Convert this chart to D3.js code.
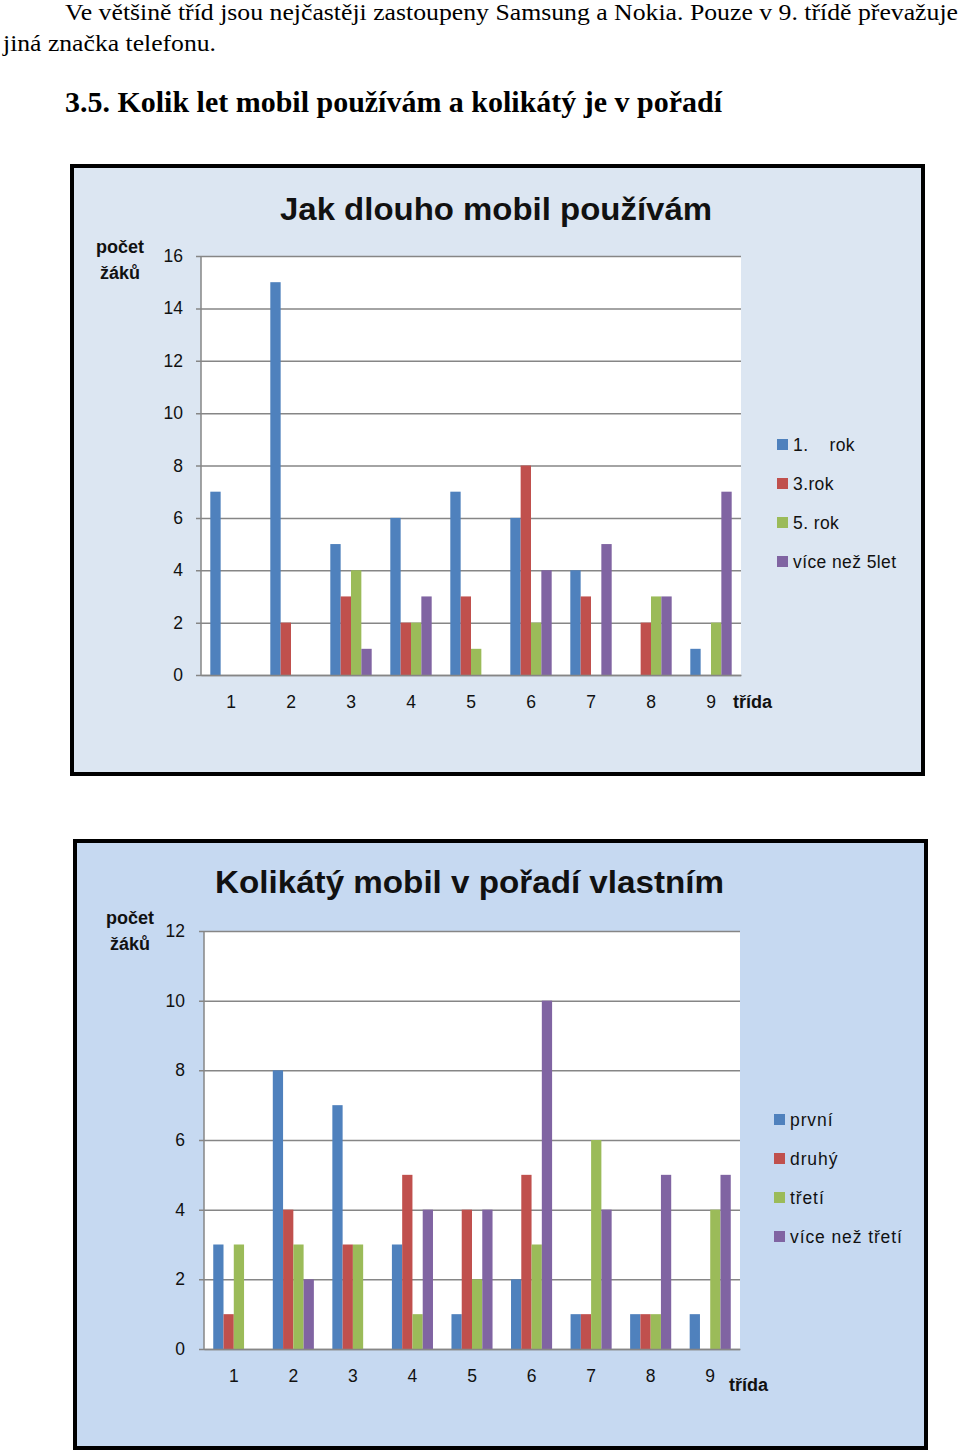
<!DOCTYPE html>
<html><head><meta charset="utf-8">
<script src="https://cdn.jsdelivr.net/npm/d3@7"></script>
<style>body{margin:0;background:#fff}svg{display:block}</style>
</head><body>
<script>
const classes = ["1","2","3","4","5","6","7","8","9"];
// Chart 1: Jak dlouho mobil používám
const series1 = ["1.    rok","3.rok","5. rok","více než 5let"];
const rok1 = [7,15,5,6,7,6,4,0,1];
const rok3 = [0,2,3,2,3,8,3,2,0];
const rok5 = [0,0,4,2,1,2,0,3,2];
const vice5 = [0,0,1,3,0,4,5,3,7];
const ticks1 = [0,2,4,6,8,10,12,14,16];
// Chart 2: Kolikátý mobil v pořadí vlastním
const series2 = ["první","druhý","třetí","více než třetí"];
const prvni = [3,8,7,3,1,2,1,1,1];
const druhy = [1,4,3,5,4,5,1,1,0];
const treti = [3,3,3,1,2,3,6,1,4];
const viceTreti = [0,2,0,4,4,10,4,5,5];
const ticks2 = [0,2,4,6,8,10,12];
const colors = ["#4f81bd","#c0504d","#9bbb59","#8064a2"];

const W=960,H=1454;
const svg=d3.select("body").append("svg").attr("width",W).attr("height",H);
const serif="Liberation Serif";
const sans="Liberation Sans";

svg.append("text").attr("x",65).attr("y",20).style("font-family",serif).attr("font-size",23)
  .attr("textLength",893).attr("lengthAdjust","spacingAndGlyphs")
  .text("Ve většině tříd jsou nejčastěji zastoupeny Samsung a Nokia. Pouze v 9. třídě převažuje");
svg.append("text").attr("x",3).attr("y",51).style("font-family",serif).attr("font-size",23)
  .attr("textLength",213).attr("lengthAdjust","spacingAndGlyphs")
  .text("jiná značka telefonu.");
svg.append("text").attr("x",65).attr("y",112).style("font-family",serif).attr("font-size",29).attr("font-weight","bold")
  .attr("textLength",657).attr("lengthAdjust","spacingAndGlyphs")
  .text("3.5. Kolik let mobil používám a kolikátý je v pořadí");

function chart(cfg){
  const g=svg.append("g");
  g.append("rect").attr("x",cfg.box[0]).attr("y",cfg.box[1]).attr("width",cfg.box[2]).attr("height",cfg.box[3])
    .attr("fill",cfg.bg).attr("stroke","#000").attr("stroke-width",4);
  const [L,R,T,B]=cfg.plot;
  g.append("rect").attr("x",L).attr("y",T).attr("width",R-L).attr("height",B-T).attr("fill","#fff");
  const y=d3.scaleLinear().domain([0,cfg.ymax]).range([B,T]);
  const x0=d3.scaleBand().domain(classes).range([L,R]).padding(0);
  const x1=d3.scaleBand().domain(d3.range(4)).range([0,x0.bandwidth()]).paddingInner(0).paddingOuter(0.9);
  const yAxis=d3.axisLeft(y).tickValues(cfg.ticks).tickSize(-(R-L)).tickPadding(cfg.ypad).tickFormat(d3.format("d"));
  const ya=g.append("g").attr("transform",`translate(${L},0)`).call(yAxis);
  ya.select(".domain").remove();
  ya.selectAll(".tick line").attr("stroke","#868686").attr("stroke-width",1.5).attr("x1",-5);
  ya.selectAll(".tick text").style("font-family",sans).attr("font-size",17.5).attr("fill","#111");
  cfg.data.forEach((arr,si)=>{
    g.append("g").selectAll("rect").data(arr).join("rect")
      .attr("x",(d,i)=>x0(classes[i])+x1(si)).attr("width",x1.bandwidth())
      .attr("y",d=>y(d)).attr("height",d=>B-y(d)).attr("fill",colors[si]);
  });
  g.append("line").attr("x1",L).attr("x2",L).attr("y1",T).attr("y2",B).attr("stroke","#868686").attr("stroke-width",1.5);
  const xa=g.append("g").attr("transform",`translate(0,${B})`).call(d3.axisBottom(x0).tickSize(0).tickPadding(cfg.xpad));
  xa.select(".domain").attr("stroke","#868686").attr("stroke-width",1.5);
  xa.selectAll(".tick text").style("font-family",sans).attr("font-size",17.5).attr("fill","#111");
  g.append("text").attr("x",cfg.title[1]).attr("y",cfg.title[2]).style("font-family",sans).attr("font-weight","bold")
    .attr("font-size",31).attr("textLength",cfg.title[3]).attr("lengthAdjust","spacingAndGlyphs").attr("fill","#111").text(cfg.title[0]);
  g.append("text").attr("x",cfg.ylab[0]).attr("y",cfg.ylab[1]).attr("text-anchor","middle").style("font-family",sans)
    .attr("font-weight","bold").attr("font-size",18).attr("fill","#111").text("počet");
  g.append("text").attr("x",cfg.ylab[0]).attr("y",cfg.ylab[1]+26).attr("text-anchor","middle").style("font-family",sans)
    .attr("font-weight","bold").attr("font-size",18).attr("fill","#111").text("žáků");
  g.append("text").attr("x",cfg.xlab[0]).attr("y",cfg.xlab[1]).style("font-family",sans)
    .attr("font-weight","bold").attr("font-size",18).attr("fill","#111").text("třída");
  const lg=g.append("g").selectAll("g").data(cfg.series).join("g")
    .attr("transform",(d,i)=>`translate(${cfg.leg[0]},${cfg.leg[1]+i*39})`);
  lg.append("rect").attr("x",0).attr("y",-12).attr("width",11).attr("height",11).attr("fill",(d,i)=>colors[i]);
  lg.append("text").attr("x",16).attr("y",0).style("font-family",sans).attr("font-size",17.5).attr("fill","#111")
    .style("letter-spacing",cfg.ls).style("white-space","pre").attr("xml:space","preserve").text(d=>d);
}

chart({box:[72,166,851,608],bg:"#dce6f2",plot:[201,741,256,675],ymax:16,ticks:ticks1,ypad:18,
  data:[rok1,rok3,rok5,vice5],series:series1,xpad:21,ls:"0.4px",
  title:["Jak dlouho mobil používám",280,220,432],ylab:[120,253],xlab:[733,708],leg:[777,451]});
chart({box:[75,841,851,607],bg:"#c6d9f1",plot:[204,740,931,1349],ymax:12,ticks:ticks2,ypad:19,
  data:[prvni,druhy,treti,viceTreti],series:series2,xpad:21,ls:"0.9px",
  title:["Kolikátý mobil v pořadí vlastním",215,893,509],ylab:[130,924],xlab:[729,1391],leg:[774,1126]});
</script>
</body></html>
